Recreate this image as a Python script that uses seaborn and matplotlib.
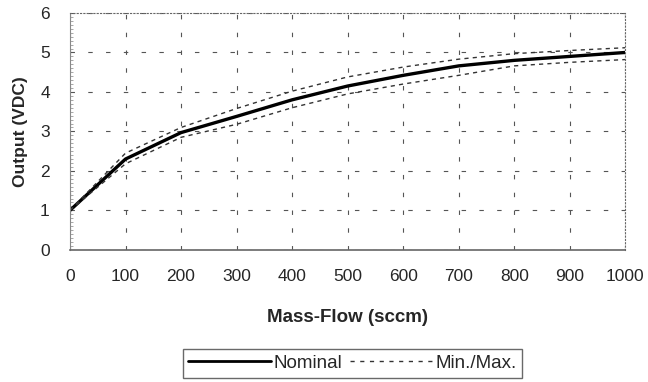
import matplotlib
matplotlib.use("Agg")
import numpy as np
import pandas as pd
import seaborn as sns
import matplotlib.pyplot as plt
from matplotlib.lines import Line2D
from matplotlib.ticker import MultipleLocator

# ------ data ------ #
mass_flow = [0, 100, 200, 300, 400, 500, 600, 700, 800, 900, 1000]
nominal = [1.0, 2.3, 2.97, 3.38, 3.8, 4.15, 4.42, 4.66, 4.8, 4.9, 5.0]
v_max = [1.0, 2.45, 3.1, 3.58, 4.02, 4.38, 4.63, 4.83, 4.97, 5.05, 5.12]
v_min = [1.0, 2.18, 2.85, 3.18, 3.6, 3.95, 4.2, 4.42, 4.66, 4.75, 4.82]
x_ticks = list(range(0, 1001, 100))
y_ticks = [0, 1, 2, 3, 4, 5, 6]

sns.set_style("white")
plt.rcParams['font.family'] = ['Liberation Sans', 'DejaVu Sans']

df = pd.DataFrame({"flow": mass_flow, "Nominal": nominal,
                   "Max": v_max, "Min": v_min})

fig = plt.figure(figsize=(6.48, 3.82), dpi=100)
ax = fig.add_axes([0.108, 0.346, 0.857, 0.62])

sns.lineplot(data=df, x="flow", y="Nominal", ax=ax, color="black", lw=2.4)
for col in ["Max", "Min"]:
    sns.lineplot(data=df, x="flow", y=col, ax=ax, color="#333333", lw=1.0,
                 dashes=False, linestyle=(0, (3, 3)))

ax.set_xlim(0, 1000)
ax.set_ylim(0, 6)
ax.set_xticks(x_ticks)
ax.set_yticks(y_ticks)
ax.yaxis.set_minor_locator(MultipleLocator(0.1))
ax.grid(True, which="major", color="#555555", linestyle=(0, (4, 12)), lw=0.8)
ax.tick_params(axis="x", labelsize=12.5, pad=12, length=4, direction="inout",
               color="#555555")
ax.tick_params(axis="y", which="major", labelsize=12.5, pad=12, length=5,
               direction="inout", color="#666666")
ax.tick_params(axis="y", which="minor", length=2, direction="in",
               color="#999999", left=True)

for side in ["top", "right"]:
    ax.spines[side].set_linestyle((0, (1, 2)))
    ax.spines[side].set_color("#666666")
    ax.spines[side].set_linewidth(0.8)
ax.spines["left"].set_color("#888888")
ax.spines["bottom"].set_color("#666666")
ax.spines["bottom"].set_linewidth(1.2)

ax.set_xlabel("Mass-Flow (sccm)", fontsize=13.5, fontweight="bold")
ax.set_ylabel("Output (VDC)", fontsize=12.5, fontweight="bold")
ax.xaxis.set_label_coords(0.5, -0.25)
ax.yaxis.set_label_coords(-0.075, 0.5)

handles = [Line2D([], [], color="black", lw=2),
           Line2D([], [], color="#333333", lw=1, linestyle=(0, (3, 4)))]
fig.legend(handles, ["Nominal", "Min./Max."], loc="upper center",
           bbox_to_anchor=(0.544, 0.086), ncol=2, fontsize=13.5,
           frameon=True, fancybox=False, edgecolor="#444444",
           handlelength=4.4, handletextpad=0.15, columnspacing=0.4,
           borderpad=0.3, borderaxespad=0)

fig.savefig("out.png", dpi=100)
